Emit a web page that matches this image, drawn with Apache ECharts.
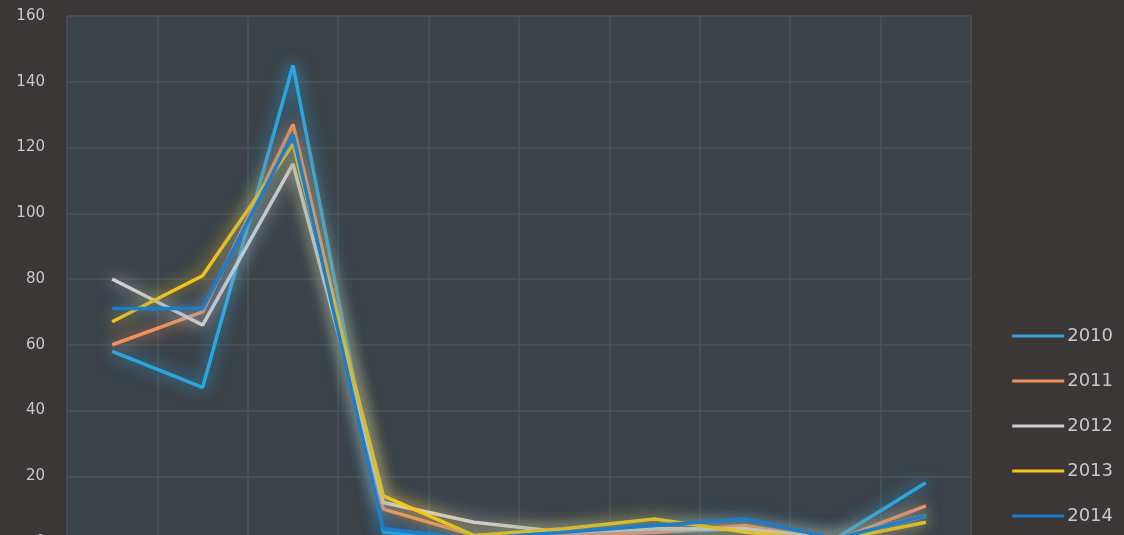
<!DOCTYPE html>
<html>
<head>
<meta charset="utf-8">
<style>
html,body{margin:0;padding:0;background:#3a3736;}
#chart{width:1124px;height:535px;}
</style>
<script src="https://cdn.jsdelivr.net/npm/echarts@6/dist/echarts.min.js"></script>
</head>
<body>
<div id="chart"></div>
<script>
const categories = ['1','2','3','4','5','6','7','8','9','10'];
const yTicks = [0,20,40,60,80,100,120,140,160];
const seriesNames = ['2010','2011','2012','2013','2014'];
const s2010 = [58, 47, 145, 3, 1, 2, 3, 4, 1, 18];
const s2011 = [60, 70, 127, 10, 2, 2, 3, 5, 0.5, 11];
const s2012 = [80, 66, 115, 12, 6, 3, 4, 4, 1, 8];
const s2013 = [67, 81, 121, 14, 2, 4, 7, 3, 0.5, 6];
const s2014 = [71, 71, 124, 4, 1, 3, 5, 7, 1, 8];
const colors = ['#2aa6e0', '#f0905a', '#cfcfcf', '#f5c61a', '#1f7cc8'];

const dataList = [s2010, s2011, s2012, s2013, s2014];
const chart = echarts.init(document.getElementById('chart'));
chart.setOption({
  backgroundColor: '#3a3736',
  animation: false,
  color: colors,
  grid: {
    left: 67, right: 153, top: 16, bottom: -7,
    outerBoundsMode: 'none',
    containLabel: false,
    show: true, backgroundColor: '#3c4349', borderWidth: 0
  },
  legend: {
    orient: 'vertical',
    right: 6, top: 322,
    itemWidth: 52, itemHeight: 3, itemGap: 27,
    icon: 'rect',
    textStyle: { color: '#c8c8c8', fontSize: 18, fontFamily: 'DejaVu Sans', padding: [0,0,0,-2] },
    data: seriesNames
  },
  xAxis: {
    type: 'category',
    data: categories,
    boundaryGap: true,
    axisLine: { show: false },
    axisTick: { show: false },
    axisLabel: { show: false },
    splitLine: { show: true, lineStyle: { color: '#4b535a', width: 1.5 } }
  },
  yAxis: {
    type: 'value',
    min: yTicks[0], max: yTicks[yTicks.length-1], interval: 20,
    axisLine: { show: false },
    axisTick: { show: false },
    axisLabel: { color: '#c8c8c8', fontSize: 15, fontFamily: 'DejaVu Sans', margin: 22 },
    splitLine: { show: true, lineStyle: { color: '#4b535a', width: 1.5 } }
  },
  series: seriesNames.map((n, i) => ({
    name: n,
    type: 'line',
    data: dataList[i],
    symbol: 'none',
    lineStyle: { width: 3.5, color: colors[i], shadowBlur: 16, shadowColor: colors[i] }
  }))
});
</script>
</body>
</html>
